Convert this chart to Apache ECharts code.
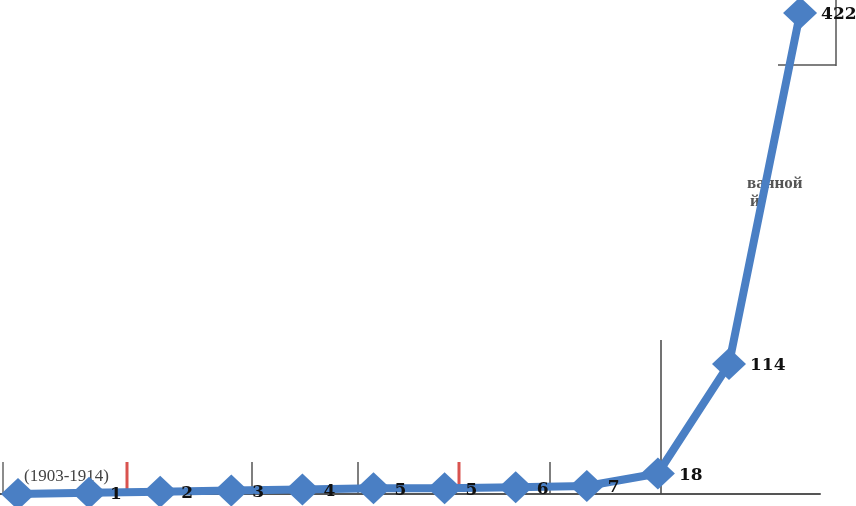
<!DOCTYPE html>
<html>
<head>
<meta charset="utf-8">
<script src="https://cdn.jsdelivr.net/npm/echarts@6/dist/echarts.min.js"></script>
<style>html,body{margin:0;padding:0;background:#fff;}#c{width:856px;height:506px;}</style>
</head>
<body>
<div id="c"></div>
<script>
var categories = ['0','1','2','3','4','5','6','7','8','9','10','11'];
var values = [0, 1, 2, 3, 4, 5, 5, 6, 7, 18, 114, 422];
var labelShown = [false, true, true, true, true, true, true, true, true, true, true, true];

var chart = echarts.init(document.getElementById('c'));
var data = values.map(function (v, i) {
  return {
    value: [i, v],
    label: { show: labelShown[i] }
  };
});
function vline(x, y1, y2, color, w) {
  return { type: 'line', shape: { x1: x, y1: y1, x2: x, y2: y2 }, style: { stroke: color, lineWidth: w }, z: 1 };
}
chart.setOption({
  animation: false,
  backgroundColor: '#ffffff',
  grid: { left: 0, right: 36, top: 13, bottom: 12 },
  xAxis: {
    type: 'value', min: -0.253, max: 11.28,
    axisLine: { show: true, lineStyle: { color: '#555', width: 2 } },
    axisTick: { show: false }, axisLabel: { show: false }, splitLine: { show: false }
  },
  yAxis: {
    type: 'value', min: 0, max: 422,
    axisLine: { show: false }, axisTick: { show: false }, axisLabel: { show: false }, splitLine: { show: false }
  },
  graphic: [
    vline(3, 462, 493, '#666', 1.5),
    vline(127, 462, 491, '#d9534f', 3),
    vline(252, 462, 493, '#555', 1.5),
    vline(358, 462, 493, '#555', 1.5),
    vline(459, 462, 491, '#d9534f', 3),
    vline(550, 462, 493, '#555', 1.5),
    vline(661, 340, 494, '#444', 1.5),
    vline(836, 0, 66, '#555', 1.5),
    { type: 'line', shape: { x1: 778, y1: 65, x2: 836, y2: 65 }, style: { stroke: '#555', lineWidth: 1.5 }, z: 1 },
    { type: 'text', left: 24, top: 468, style: { text: '(1903-1914)', font: '17px "Liberation Serif"', fill: '#444' }, z: 1 },
    { type: 'text', left: 747, top: 175, style: { text: 'ванной', font: 'bold 17px "Liberation Serif"', fill: '#555' }, z: 1 },
    { type: 'text', left: 750, top: 193, style: { text: 'й', font: 'bold 17px "Liberation Serif"', fill: '#555' }, z: 1 }
  ],
  series: [{
    type: 'line',
    data: data,
    clip: false,
    z: 5,
    symbol: 'diamond',
    symbolSize: [34, 32],
    itemStyle: { color: '#4a7fc4' },
    lineStyle: { color: '#4a7fc4', width: 8 },
    label: {
      position: 'right', distance: 4,
      formatter: function (p) { return p.value[1]; },
      color: '#111', fontWeight: 'bold', fontSize: 17,
      fontFamily: '"DejaVu Serif"', offset: [0, 2]
    }
  }]
});
</script>
</body>
</html>
